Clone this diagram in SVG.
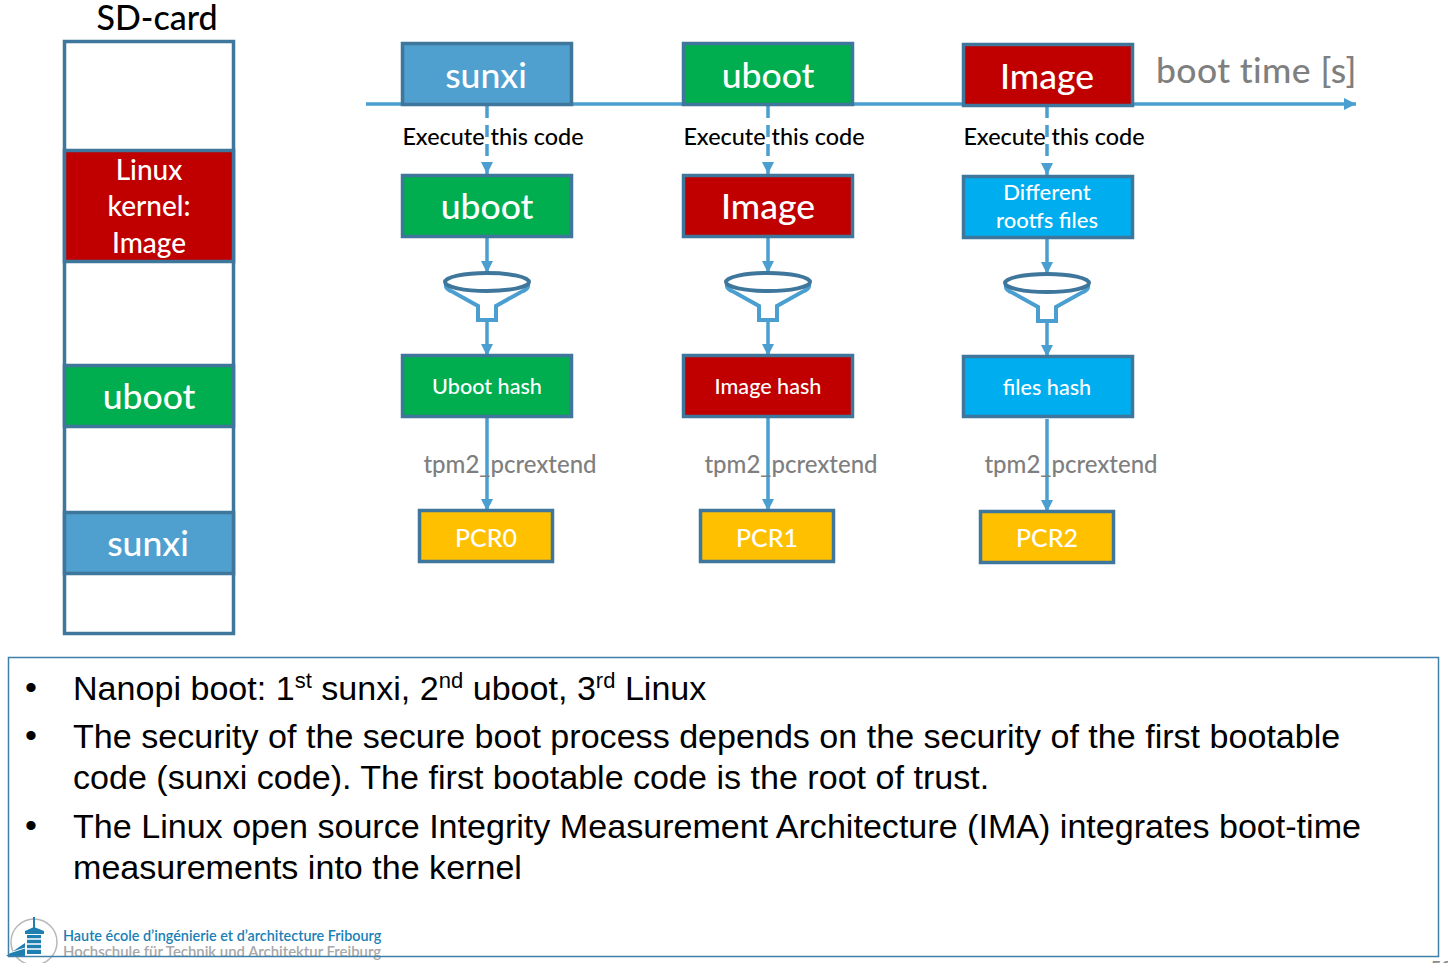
<svg xmlns="http://www.w3.org/2000/svg" width="1448" height="963" viewBox="0 0 1448 963">
<style>
text{font-family:"Lato","Carlito","Open Sans",sans-serif;font-weight:500}
.box{stroke:#3f769b;stroke-width:3.500}
.w{fill:#fff;text-anchor:middle}
.l{font-size:35.500px}.s{font-size:21.600px}.r{font-size:25px}
.k{font-size:28px}
.blue{fill:#4f9fcf}.green{fill:#00ae4f}.red{fill:#c00000}.cyan{fill:#00aeef}.amber{fill:#ffc000}
.ex{font-size:23.400px;fill:#000;text-anchor:middle}
.tp{font-size:24px;fill:#7f7f7f;text-anchor:middle}
.b{font-family:"Liberation Sans",Arial,sans-serif;font-size:34.100px;font-weight:400;fill:#000}
.sup{font-size:22px}
.c{fill:none;stroke:#4a9fd0;stroke-width:3.500}
.d{stroke-dasharray:12 7}
.fo{fill:#fff;stroke:#4a9fd0;stroke-width:4}
.ft{fill:none;stroke:#3f769b;stroke-width:4}
</style>
<defs>
<marker id="a" markerUnits="userSpaceOnUse" markerWidth="13" markerHeight="12" refX="12" refY="6" orient="auto"><path d="M0 0L12 6L0 12Z" fill="#4a9fd0"/></marker>
<g id="funnel"><path class="fo" d="M-41 3Q-42 7-34 10L-9 24V38H9V24L34 10Q42 7 41 3"/><ellipse class="ft" cx="0" cy="0" rx="42" ry="9" fill="none"/></g>
</defs>
<rect width="1448" height="963" fill="#fff"/>

<g id="sd-card">
<text x="157" y="30" style="font-size:34px" text-anchor="middle">SD-card</text>
<rect class="box" x="64.500" y="41.500" width="169" height="592" fill="#fff"/>
</g>
<g id="sd-linux"><rect class="box red" x="64.500" y="150.500" width="169" height="111"/>
<text class="w k" x="149" y="180">Linux</text><text class="w k" x="149" y="216">kernel:</text><text class="w k" x="149" y="253">Image</text></g>
<g id="sd-uboot"><rect class="box green" x="64.500" y="365.500" width="169" height="61"/><text class="w l" x="149" y="409">uboot</text></g>
<g id="sd-sunxi"><rect class="box blue" x="64.500" y="512.500" width="169" height="61"/><text class="w l" x="148" y="556">sunxi</text></g>

<g id="connectors">
<path class="c" marker-end="url(#a)" d="M366 104H1356"/>
<path class="c d" marker-end="url(#a)" d="M487 106V174"/><path class="c" marker-end="url(#a)" d="M487 237V273"/><path class="c" marker-end="url(#a)" d="M487 320V356"/><path class="c" marker-end="url(#a)" d="M487 418V511"/>
<path class="c d" marker-end="url(#a)" d="M768 106V174"/><path class="c" marker-end="url(#a)" d="M768 237V273"/><path class="c" marker-end="url(#a)" d="M768 320V356"/><path class="c" marker-end="url(#a)" d="M768 418V511"/>
<path class="c d" marker-end="url(#a)" d="M1047 106V175"/><path class="c" marker-end="url(#a)" d="M1047 238V274"/><path class="c" marker-end="url(#a)" d="M1047 321V357"/><path class="c" marker-end="url(#a)" d="M1047 419V512"/>
</g>

<text x="1156" y="83" style="font-size:35.500px;letter-spacing:.4px;fill:#7f7f7f">boot time [s]</text>

<g id="top-sunxi"><rect class="box blue" x="402.500" y="43.500" width="169" height="61"/><text class="w l" x="486" y="88">sunxi</text></g>
<g id="top-uboot"><rect class="box green" x="683.500" y="43.500" width="169" height="61"/><text class="w l" x="768" y="88">uboot</text></g>
<g id="top-image"><rect class="box red" x="963.500" y="44.500" width="169" height="61"/><text class="w l" x="1047" y="89">Image</text></g>

<text class="ex" x="493" y="145">Execute this code</text>
<text class="ex" x="774" y="145">Execute this code</text>
<text class="ex" x="1054" y="145">Execute this code</text>

<g id="code-uboot"><rect class="box green" x="402.500" y="175.500" width="169" height="61"/><text class="w l" x="487" y="219">uboot</text></g>
<g id="code-image"><rect class="box red" x="683.500" y="175.500" width="169" height="61"/><text class="w l" x="768" y="219">Image</text></g>
<g id="code-rootfs"><rect class="box cyan" x="963.500" y="176.500" width="169" height="61"/><text class="w" x="1047" y="200" style="font-size:22px">Different</text><text class="w" x="1047" y="228" style="font-size:22px">rootfs files</text></g>

<g id="funnel-1"><use href="#funnel" x="487" y="282"/></g>
<g id="funnel-2"><use href="#funnel" x="768" y="282"/></g>
<g id="funnel-3"><use href="#funnel" x="1047" y="283"/></g>

<g id="hash-uboot"><rect class="box green" x="402.500" y="355.500" width="169" height="61"/><text class="w s" x="487" y="394">Uboot hash</text></g>
<g id="hash-image"><rect class="box red" x="683.500" y="355.500" width="169" height="61"/><text class="w s" x="768" y="394">Image hash</text></g>
<g id="hash-files"><rect class="box cyan" x="963.500" y="356.500" width="169" height="60"/><text class="w s" x="1047" y="395">files hash</text></g>

<text class="tp" x="510" y="473">tpm2_pcrextend</text>
<text class="tp" x="791" y="473">tpm2_pcrextend</text>
<text class="tp" x="1071" y="473">tpm2_pcrextend</text>

<g id="pcr0"><rect class="box amber" x="419.500" y="510.500" width="133" height="51"/><text class="w r" x="486" y="547">PCR0</text></g>
<g id="pcr1"><rect class="box amber" x="700.500" y="510.500" width="133" height="51"/><text class="w r" x="767" y="547">PCR1</text></g>
<g id="pcr2"><rect class="box amber" x="980.500" y="511.500" width="133" height="51"/><text class="w r" x="1047" y="547">PCR2</text></g>

<g id="notes">
<text class="b" x="25" y="699">•</text>
<text class="b" x="73" y="700">Nanopi boot: 1<tspan class="sup" dy="-12">st</tspan><tspan dy="12"> sunxi, 2</tspan><tspan class="sup" dy="-12">nd</tspan><tspan dy="12"> uboot, 3</tspan><tspan class="sup" dy="-12">rd</tspan><tspan dy="12"> Linux</tspan></text>
<text class="b" x="25" y="747">•</text>
<text class="b" x="73" y="748">The security of the secure boot process depends on the security of the first bootable</text>
<text class="b" x="73" y="789">code (sunxi code). The first bootable code is the root of trust.</text>
<text class="b" x="25" y="837">•</text>
<text class="b" x="73" y="838">The Linux open source Integrity Measurement Architecture (IMA) integrates boot-time</text>
<text class="b" x="73" y="879">measurements into the kernel</text>
</g>

<g id="footer">
<circle cx="34" cy="942" r="23" fill="none" stroke="#b8b8b8" stroke-width="1.500"/>
<path d="M34 917V930" stroke="#1f7fb0" stroke-width="2"/>
<path d="M25 931L34 927L44 931V934H25Z" fill="#1f7fb0"/>
<path d="M27 935H41V954H27Z" fill="#1f7fb0"/>
<path d="M27 939H41M27 944H41M27 949H41" stroke="#fff" stroke-width="1.500"/>
<path d="M6 956L25 943V956Z" fill="#1f7fb0"/>
<path d="M9 953L25 948" stroke="#fff" stroke-width="1"/>
<text x="63" y="941" style="font-size:14.400px;font-weight:600;fill:#1a7fb5">Haute école d’ingénierie et d’architecture Fribourg</text>
<text x="63" y="957" style="font-size:14.900px;font-weight:600;fill:#a8a8a8">Hochschule für Technik und Architektur Freiburg</text>
<text x="1430" y="975" style="font-size:20px;fill:#8a8a8a">58</text>
</g>
<rect id="notes-box" x="8.500" y="657.500" width="1430" height="299" fill="none" stroke="#3f80a8" stroke-width="1.500"/>
</svg>
